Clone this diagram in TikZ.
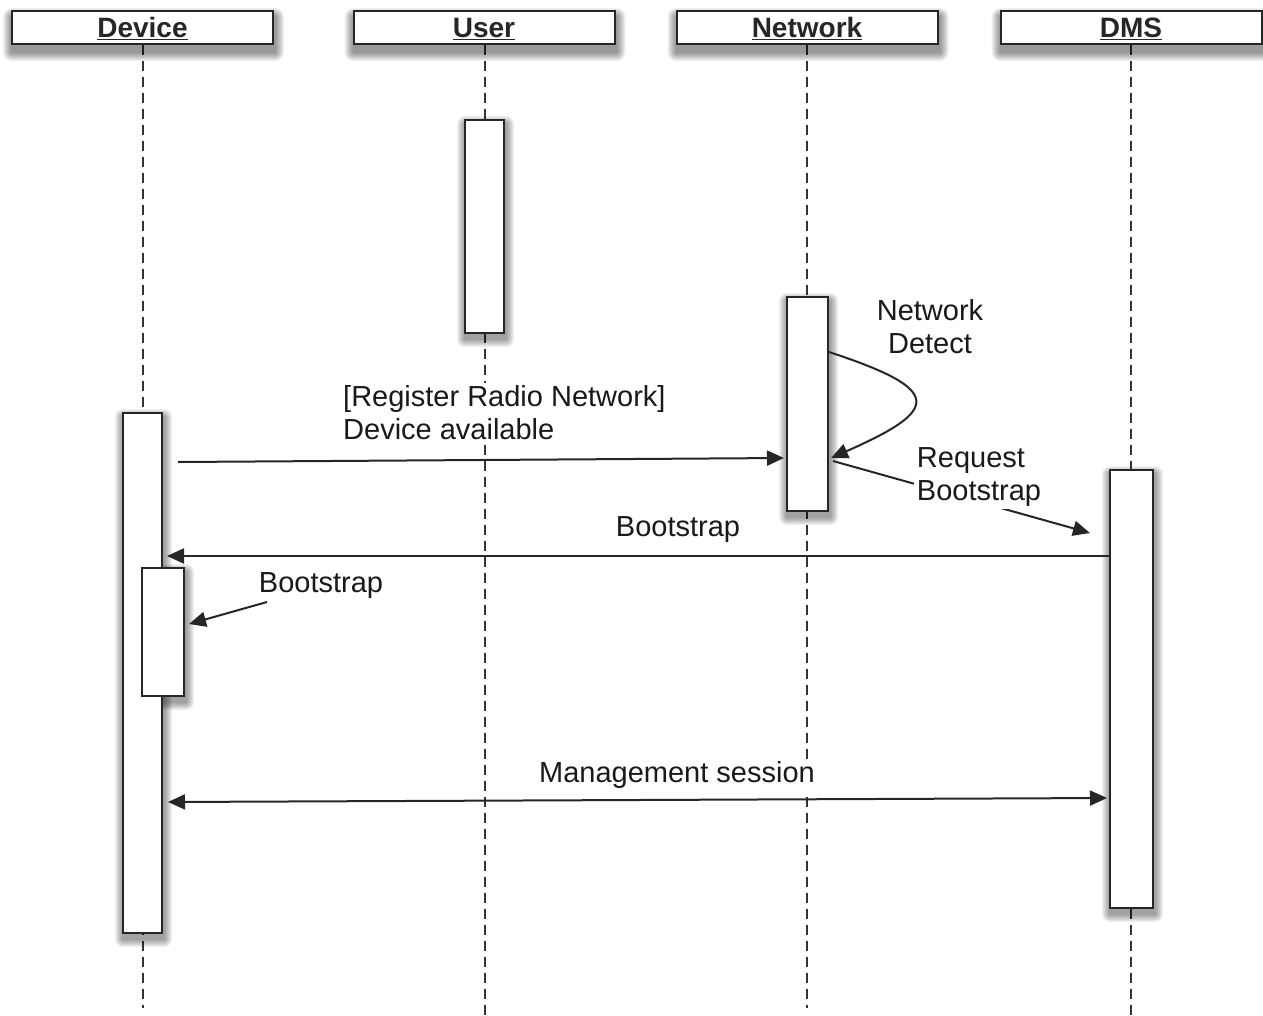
\documentclass[tikz,border=0pt]{standalone}
\usepackage{fontspec}
\setmainfont{Liberation Sans}
\usetikzlibrary{arrows.meta,backgrounds}
\newcommand{\softshadow}[3]{% node, offset, layers
  \foreach \i in {1,...,#3} {
    \fill[black, opacity=0.055, rounded corners=\i pt]
      ([shift={(-\i pt+1pt,-\i pt-#2)}]#1.south west) rectangle
      ([shift={(\i pt+1pt,\i pt-#2)}]#1.north east);
  }%
}
\begin{document}
\begin{tikzpicture}[x=1pt,y=-1pt,
  lbl/.style={font=\fontsize{29}{33}\selectfont, text=black!90, inner sep=2pt, fill=white},
  head/.style={draw=black!85, line width=2pt, fill=white, minimum width=261pt,
    minimum height=33pt, inner sep=0pt, font=\fontsize{28}{30}\selectfont\bfseries,
    text=black!85, text height=22pt, text depth=2pt},
  act/.style={draw=black!85, line width=2pt, fill=white, inner sep=0pt},
  life/.style={line width=1.6pt, dash pattern=on 10pt off 6pt, draw=black!80},
  msg/.style={line width=2pt, draw=black!85, -{Triangle[length=17pt,width=15pt]}},
  dmsg/.style={line width=2pt, draw=black!85, {Triangle[length=17pt,width=15pt]}-{Triangle[length=17pt,width=15pt]}},
]
\useasboundingbox (0,0) rectangle (1263,1015);

% headers
\node[head] (hdev)  at (142.5,27.5) {\underline{Device}};
\node[head] (huser) at (484,27.5)   {\underline{User}};
\node[head] (hnet)  at (807,27.5)   {\underline{Network}};
\node[head] (hdms)  at (1131,27.5)  {\underline{DMS}};

% end points of lifelines
\coordinate (edev)  at (143,1008);
\coordinate (euser) at (485,1015);
\coordinate (enet)  at (807,1008);
\coordinate (edms)  at (1131,1015);

% activation boxes
\node[act, minimum width=39pt, minimum height=213pt] (useract) at (484.5,226.5) {};
\node[act, minimum width=41pt, minimum height=214pt] (netact)  at (807.5,404) {};
\node[act, minimum width=39pt, minimum height=520pt] (devact)  at (142.5,673) {};
\node[act, minimum width=43pt, minimum height=438pt] (dmsact)  at (1131.5,689) {};
\node[act, minimum width=42pt, minimum height=128pt] (bootact) at (163,632) {};

\begin{scope}[on background layer]
  \draw[life] (hdev.south -| edev) -- (edev);
  \draw[life] (huser.south -| euser) -- (euser);
  \draw[life] (hnet.south -| enet) -- (enet);
  \draw[life] (hdms.south -| edms) -- (edms);
  \softshadow{hdev}{7pt}{9}
  \softshadow{huser}{7pt}{9}
  \softshadow{hnet}{7pt}{9}
  \softshadow{hdms}{7pt}{9}
  \softshadow{useract}{5pt}{8}
  \softshadow{netact}{5pt}{8}
  \softshadow{devact}{5pt}{8}
  \softshadow{dmsact}{5pt}{8}
  \softshadow{bootact}{5pt}{8}
\end{scope}

% message 1
\coordinate (m1s) at (178,462);
\draw[msg] (m1s) -- ([xshift=-2pt]netact.west |- 0,458);
\node[lbl, align=left, anchor=west] (l1) at (341,412.5) {[Register Radio Network]\\Device available};

% self call
\draw[msg] (netact.east |- 0,352) .. controls (945,390) and (940,410) .. ([xshift=2pt]netact.east |- 0,458);
\node[lbl, align=center] (l2) at (930,327) {Network\\Detect};

% request bootstrap
\coordinate (rbend) at (1090,533);
\draw[msg] ([xshift=4pt]netact.east |- 0,461) -- (rbend);
\node[lbl, align=left, inner sep=3pt] (l3) at (979,477) {Request\\Bootstrap};

% bootstrap DMS -> Device
\coordinate (bsend) at (167,556);
\draw[msg] (dmsact.west |- bsend) -- (bsend);
\node[lbl] (l4) at (678,530) {Bootstrap};

% bootstrap annotation
\node[lbl] (l5) at (321,586) {Bootstrap};
\coordinate (l5s) at (267,602);
\draw[msg] (l5s) -- ([xshift=4pt]bootact.east |- 0,624);

% management session
\coordinate (mss) at (168,802);
\draw[dmsg] (mss) -- ([xshift=-2pt]dmsact.west |- 0,798);
\node[lbl] (l6) at (677,775) {Management session};
\end{tikzpicture}
\end{document}
